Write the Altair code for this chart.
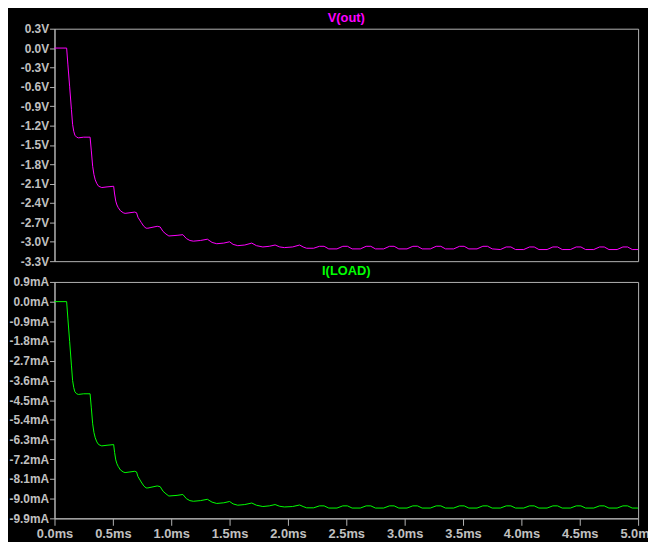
import altair as alt
import pandas as pd

time_ms = [
    0.0, 0.104, 0.115, 0.13, 0.145, 0.155, 0.165, 0.175, 0.19, 0.205, 0.25, 0.305,
    0.315, 0.327, 0.338, 0.349, 0.363, 0.378, 0.405, 0.45, 0.507,
    0.515, 0.525, 0.535, 0.546, 0.565, 0.589, 0.605, 0.687, 0.703,
    0.715, 0.743, 0.765, 0.785, 0.80, 0.88, 0.905,
    0.93, 0.955, 0.98, 1.05, 1.10,
    1.13, 1.16, 1.19, 1.25, 1.31,
    1.35, 1.39, 1.45, 1.50,
    1.53, 1.57, 1.63, 1.69,
    1.73, 1.785, 1.84, 1.89,
    1.93, 1.97, 2.04, 2.10,
    2.13, 2.16, 2.22, 2.27, 2.31,
    2.35, 2.42, 2.47, 2.51,
    2.55, 2.62, 2.67, 2.71,
    2.75, 2.82, 2.87, 2.91,
    2.95, 3.02, 3.07, 3.11,
    3.15, 3.22, 3.27, 3.31,
    3.35, 3.42, 3.47, 3.51,
    3.55, 3.62, 3.67, 3.71,
    3.75, 3.82, 3.87, 3.91,
    3.95, 4.02, 4.07, 4.11,
    4.15, 4.22, 4.27, 4.31,
    4.35, 4.42, 4.47, 4.51,
    4.55, 4.62, 4.67, 4.71,
    4.75, 4.82, 4.87, 4.91,
    4.95, 5.00,
]

v_out = [
    0.0, 0.0, -0.26, -0.60, -0.95, -1.18, -1.29, -1.35, -1.38, -1.39, -1.38, -1.38,
    -1.58, -1.83, -1.96, -2.04, -2.10, -2.14, -2.16, -2.15, -2.14,
    -2.26, -2.37, -2.43, -2.47, -2.52, -2.55, -2.56, -2.54, -2.55,
    -2.62, -2.70, -2.76, -2.79, -2.79, -2.76, -2.77,
    -2.84, -2.88, -2.91, -2.90, -2.89,
    -2.95, -2.98, -2.99, -2.98, -2.96,
    -3.01, -3.03, -3.02, -3.00,
    -3.04, -3.06, -3.05, -3.02,
    -3.06, -3.08, -3.07, -3.05,
    -3.08, -3.09, -3.08, -3.05,
    -3.08, -3.10, -3.10, -3.07, -3.07,
    -3.11, -3.11, -3.07, -3.07,
    -3.11, -3.11, -3.07, -3.07,
    -3.11, -3.11, -3.07, -3.07,
    -3.11, -3.11, -3.07, -3.07,
    -3.11, -3.11, -3.07, -3.07,
    -3.11, -3.11, -3.07, -3.07,
    -3.11, -3.11, -3.07, -3.07,
    -3.11, -3.12, -3.08, -3.08,
    -3.12, -3.12, -3.08, -3.08,
    -3.12, -3.12, -3.08, -3.08,
    -3.12, -3.12, -3.08, -3.08,
    -3.12, -3.12, -3.08, -3.08,
    -3.12, -3.12, -3.08, -3.08,
    -3.12, -3.12,
]

i_load = [
    0.0, 0.0, -0.79, -1.83, -2.90, -3.60, -3.93, -4.12, -4.21, -4.24, -4.21, -4.21,
    -4.82, -5.58, -5.98, -6.22, -6.41, -6.53, -6.59, -6.56, -6.53,
    -6.89, -7.23, -7.41, -7.53, -7.69, -7.78, -7.81, -7.75, -7.78,
    -7.99, -8.24, -8.42, -8.51, -8.51, -8.42, -8.45,
    -8.66, -8.78, -8.88, -8.85, -8.81,
    -9.00, -9.09, -9.12, -9.09, -9.03,
    -9.16, -9.22, -9.19, -9.13,
    -9.24, -9.30, -9.27, -9.20,
    -9.30, -9.36, -9.33, -9.27,
    -9.35, -9.38, -9.36, -9.29,
    -9.36, -9.42, -9.42, -9.33, -9.33,
    -9.43, -9.43, -9.33, -9.33,
    -9.43, -9.43, -9.33, -9.33,
    -9.43, -9.43, -9.33, -9.33,
    -9.43, -9.43, -9.33, -9.33,
    -9.43, -9.43, -9.33, -9.33,
    -9.43, -9.43, -9.33, -9.33,
    -9.43, -9.43, -9.33, -9.33,
    -9.43, -9.43, -9.33, -9.33,
    -9.43, -9.43, -9.33, -9.33,
    -9.43, -9.43, -9.33, -9.33,
    -9.43, -9.43, -9.33, -9.33,
    -9.43, -9.43, -9.33, -9.33,
    -9.43, -9.43, -9.33, -9.33,
    -9.43, -9.43,
]

v_ticks = [0.3, 0.0, -0.3, -0.6, -0.9, -1.2, -1.5, -1.8, -2.1, -2.4, -2.7, -3.0, -3.3]
i_ticks = [0.9, 0.0, -0.9, -1.8, -2.7, -3.6, -4.5, -5.4, -6.3, -7.2, -8.1, -9.0, -9.9]
t_ticks = [0.0, 0.5, 1.0, 1.5, 2.0, 2.5, 3.0, 3.5, 4.0, 4.5, 5.0]

df = pd.DataFrame({"t": time_ms, "v": v_out, "i": i_load})

FONT = "Liberation Sans"
LINE = "#b4b4b4"
LABEL = "#c0c0c0"
W = 590

def yaxis(vals, unit):
    return alt.Axis(
        values=vals, title=None, grid=False,
        labelExpr="(datum.value < -0.001 ? '-' : '') + format(abs(datum.value), '.1f') + '" + unit + "'",
        labelFont=FONT, labelFontSize=12, labelFontWeight="bold", labelColor=LABEL,
        tickSize=5, tickColor=LINE, domainColor=LINE, labelPadding=1,
        minExtent=46, maxExtent=46,
    )

top = alt.Chart(df).mark_line(color="#ff00ff", strokeWidth=1).encode(
    x=alt.X("t:Q", scale=alt.Scale(domain=[0, 5], nice=False, zero=False), axis=None),
    y=alt.Y("v:Q", scale=alt.Scale(domain=[-3.3, 0.3], nice=False, zero=False),
            axis=yaxis(v_ticks, "V")),
).properties(
    width=W, height=235,
    title=alt.TitleParams("V(out)", color="#ff00ff", font=FONT, fontSize=13,
                          fontWeight="bold", anchor="middle", frame="group", offset=-2),
)

bottom = alt.Chart(df).mark_line(color="#00ff00", strokeWidth=1).encode(
    x=alt.X("t:Q", scale=alt.Scale(domain=[0, 5], nice=False, zero=False),
            axis=alt.Axis(values=t_ticks, title=None, grid=False, labelFlush=False,
                          labelExpr="format(datum.value, '.1f') + 'ms'",
                          labelFont=FONT, labelFontSize=13, labelFontWeight="bold",
                          labelColor=LABEL, tickSize=7, tickColor=LINE,
                          domainColor=LINE, labelPadding=2)),
    y=alt.Y("i:Q", scale=alt.Scale(domain=[-9.9, 0.9], nice=False, zero=False),
            axis=yaxis(i_ticks, "mA")),
).properties(
    width=W, height=239,
    title=alt.TitleParams("I(LOAD)", color="#00ff00", font=FONT, fontSize=13,
                          fontWeight="bold", anchor="middle", frame="group", offset=-2),
)

chart = alt.vconcat(top, bottom, spacing=21, bounds="flush").properties(
    background="black",
    padding={"left": 0, "top": 0, "right": -9, "bottom": 0},
).configure_view(stroke=LINE, strokeWidth=1)

chart.save("out.html", embed_options={"renderer": "svg", "actions": False})
